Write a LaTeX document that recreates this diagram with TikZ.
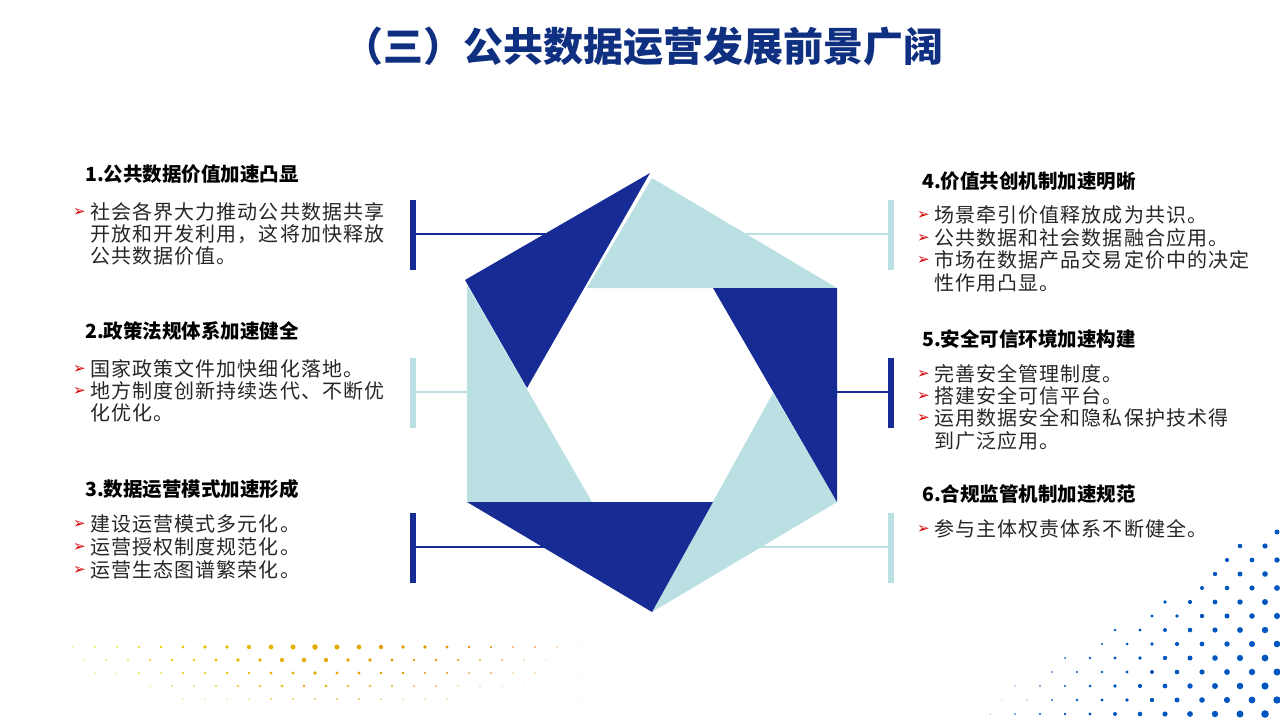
\documentclass[tikz,border=0pt]{standalone}
\usepackage{fontspec}
\setmainfont{Noto Sans CJK SC}
\newfontfamily\bodyfont[LetterSpace=5.5]{Noto Sans CJK SC}
\newfontfamily\djv{DejaVu Sans}
\begin{document}
\begin{tikzpicture}[x=1pt,y=-1pt,
  dk/.style={fill=hexdark,draw=none},
  lt/.style={fill=hexlight,draw=none},
  head/.style={anchor=west,font=\fontsize{19.5}{22}\selectfont\bfseries,inner sep=0},
  body/.style={anchor=west,font=\bodyfont\fontsize{20}{22}\selectfont,inner sep=0,text=black!85},
  bul/.style={anchor=west,font=\djv\fontsize{15}{16}\selectfont,text=red!85!black,inner sep=0},
  darkbar/.style={draw=hexdark,line width=6pt},
  lightbar/.style={draw=hexlight,line width=6pt},
  darkln/.style={draw=hexdark,line width=2pt},
  lightln/.style={draw=hexlight,line width=2pt}]
\definecolor{hexdark}{HTML}{172B95}
\definecolor{hexlight}{HTML}{BBE0E3}
\definecolor{titleblue}{HTML}{0F2F80}
\useasboundingbox (0,0) rectangle (1280,720);
% dots left-bottom
\foreach \i in {0,...,24}{\foreach \j in {0,...,5}{
  \pgfmathsetmacro{\xx}{40+\i*22+mod(\j,2)*11}
  \pgfmathsetmacro{\yy}{712-\j*13}
  \pgfmathsetmacro{\rr}{max(0.4,(0.5+0.45*\j)*(1-abs(\i-12)/14))}
  \pgfmathsetmacro{\mx}{100*\i/24}
  \fill[orange!\mx!yellow!90!black] (\xx,\yy) circle (\rr);}}
% dots right-bottom
\foreach \i in {0,...,11}{\foreach \j in {0,...,16}{
  \pgfmathsetmacro{\xx}{990+\i*25+mod(\j,2)*12}
  \pgfmathsetmacro{\yy}{714-\j*14}
  \pgfmathsetmacro{\ok}{(\i*25+40)-\j*24>0 ? 1 : 0}
  \pgfmathsetmacro{\rr}{\ok*(0.5+0.3*\i-0.1*\j)}
  \ifdim\rr pt>0.3pt \fill[blue!55!cyan!75!black] (\xx,\yy) circle (\rr);\fi}}
% title
\node[font=\fontsize{40}{44}\selectfont\bfseries,text=titleblue] (title) at (643,46) {（三）公共数据运营发展前景广阔};
% hexagon coordinates
\coordinate (T) at (650,173);
\coordinate (UL) at (465,280);
\coordinate (UR) at (837,288);
\coordinate (LR) at (837,502);
\coordinate (B) at (652,612);
\coordinate (LL) at (467,502);
\coordinate (i1) at (587,288);
\coordinate (i2) at (713,288);
\coordinate (i3) at (773,393);
\coordinate (i4) at (713,502);
\coordinate (i5) at (592,502);
\coordinate (i6) at (527,388);
% connectors
\coordinate (a1) at (413,234); \coordinate (a2) at (413,392); \coordinate (a3) at (413,547);
\coordinate (b1) at (891,234); \coordinate (b2) at (891,392); \coordinate (b3) at (891,547);
\draw[darkln] (a1) -- (560,234);
\draw[lightln] (a2) -- (467,392);
\draw[darkln] (a3) -- (560,547);
\draw[lightln] (b1) -- (740,234);
\draw[darkln] (b2) -- (837,392);
\draw[lightln] (b3) -- (740,547);
\draw[darkbar] (413,200) -- (413,270);
\draw[lightbar] (413,358) -- (413,428);
\draw[darkbar] (413,513) -- (413,583);
\draw[lightbar] (891,200) -- (891,270);
\draw[darkbar] (891,358) -- (891,428);
\draw[lightbar] (891,513) -- (891,583);
% triangles
\fill[lt] (652,178) -- (UR) -- (i1) -- cycle;
\fill[lt] (467,285) -- (LL) -- (i5) -- cycle;
\fill[lt] (i3) -- (LR) -- (B) -- cycle;
\fill[dk] (T) -- (UL) -- (i6) -- cycle;
\fill[dk] (i2) -- (UR) -- (LR) -- cycle;
\fill[dk] (LL) -- (i4) -- (B) -- cycle;
% left texts
\node[head] (h1) at (85,174) {1.公共数据价值加速凸显};
\node[bul] (p11) at (73,212) {➢};
\node[body] (t11) at (90,212) {社会各界大力推动公共数据共享};
\node[body] (t12) at (90,234) {开放和开发利用，这将加快释放};
\node[body] (t13) at (90,256) {公共数据价值。};
\node[head] (h2) at (85,331) {2.政策法规体系加速健全};
\node[bul] (p21) at (73,369) {➢};
\node[body] (t21) at (90,369) {国家政策文件加快细化落地。};
\node[bul] (p22) at (73,391) {➢};
\node[body] (t22) at (90,391) {地方制度创新持续迭代、不断优};
\node[body] (t23) at (90,413) {化优化。};
\node[head] (h3) at (85,489) {3.数据运营模式加速形成};
\node[bul] (p31) at (73,524) {➢};
\node[body] (t31) at (90,524) {建设运营模式多元化。};
\node[bul] (p32) at (73,547) {➢};
\node[body] (t32) at (90,547) {运营授权制度规范化。};
\node[bul] (p33) at (73,570) {➢};
\node[body] (t33) at (90,570) {运营生态图谱繁荣化。};
% right texts
\node[head] (h4) at (922,181) {4.价值共创机制加速明晰};
\node[bul] (p41) at (917,215) {➢};
\node[body] (t41) at (934,215) {场景牵引价值释放成为共识。};
\node[bul] (p42) at (917,238) {➢};
\node[body] (t42) at (934,238) {公共数据和社会数据融合应用。};
\node[bul] (p43) at (917,260) {➢};
\node[body] (t43) at (934,260) {市场在数据产品交易定价中的决定};
\node[body] (t44) at (934,283) {性作用凸显。};
\node[head] (h5) at (922,339) {5.安全可信环境加速构建};
\node[bul] (p51) at (917,374) {➢};
\node[body] (t51) at (934,374) {完善安全管理制度。};
\node[bul] (p52) at (917,396) {➢};
\node[body] (t52) at (934,396) {搭建安全可信平台。};
\node[bul] (p53) at (917,418) {➢};
\node[body] (t53) at (934,418) {运用数据安全和隐私保护技术得};
\node[body] (t54) at (934,441) {到广泛应用。};
\node[head] (h6) at (922,494) {6.合规监管机制加速规范};
\node[bul] (p61) at (917,529) {➢};
\node[body] (t61) at (934,529) {参与主体权责体系不断健全。};
\end{tikzpicture}
\end{document}
